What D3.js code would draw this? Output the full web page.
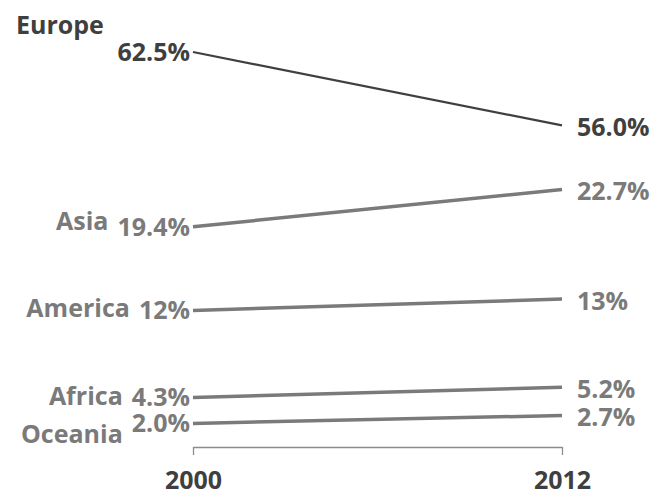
<!DOCTYPE html>
<html>
<head>
<meta charset="utf-8">
<script src="https://cdn.jsdelivr.net/npm/d3@7"></script>
<style>
  html, body { margin: 0; padding: 0; background: #fff; }
  svg { display: block; }
  text { font-family: "Open Sans", "DejaVu Sans", sans-serif; font-weight: 700; }
</style>
</head>
<body>
<svg id="chart" width="654" height="495"></svg>
<script>
const years = ["2000", "2012"];
const regions = ["Europe", "Asia", "America", "Africa", "Oceania"];
const share2000 = [62.5, 19.4, 12, 4.3, 2.0];
const share2012 = [56.0, 22.7, 13, 5.2, 2.7];
const labels2000 = ["62.5%", "19.4%", "12%", "4.3%", "2.0%"];
const labels2012 = ["56.0%", "22.7%", "13%", "5.2%", "2.7%"];

const svg = d3.select("#chart");
const FS = 25;
const dark = "#3f3f3f", grey = "#7a7a7a";

const x = d3.scalePoint().domain(years).range([193, 562]);
// broken value axis: same unit height on both sides of the gap (22.7 .. 56)
const k = 11.3, base = 446;
const y = d3.scaleLinear()
  .domain([0, 24, 54, 66])
  .range([base, base - 24 * k, 52 + 8.5 * k, 52 - 3.5 * k]);

const rows = regions.map((r, i) => ({
  name: r, a: share2000[i], b: share2012[i], la: labels2000[i], lb: labels2012[i],
  color: i === 0 ? dark : grey, width: i === 0 ? 2.2 : 3.5
}));

// axis
const axis = d3.axisBottom(x).tickSizeInner(8).tickSizeOuter(0).tickPadding(16);
const ag = svg.append("g").attr("transform", `translate(0,${base + 1})`).call(axis);
ag.select(".domain").attr("stroke", "#8c8c8c").attr("stroke-width", 1.3);
ag.selectAll(".tick line").attr("stroke", "#8c8c8c").attr("stroke-width", 1.3);
ag.selectAll(".tick text").attr("fill", dark).style("font-size", FS + "px")
  .style("font-family", '"Open Sans", sans-serif').style("font-weight", 700);

// lines
svg.selectAll("line.slope").data(rows).join("line")
  .attr("class", "slope")
  .attr("x1", x(years[0])).attr("x2", x(years[1]))
  .attr("y1", d => y(d.a)).attr("y2", d => y(d.b))
  .attr("stroke", d => d.color).attr("stroke-width", d => d.width);

// left value labels
const leftVals = svg.selectAll("text.lv").data(rows).join("text")
  .attr("class", "lv")
  .attr("x", x(years[0]) - 3).attr("y", d => y(d.a) + 9)
  .attr("text-anchor", "end").attr("fill", d => d.color)
  .style("font-size", FS + "px").text(d => d.la);

// right value labels
svg.selectAll("text.rv").data(rows).join("text")
  .attr("class", "rv")
  .attr("x", x(years[1]) + 15).attr("y", d => y(d.b) + 11)
  .attr("fill", d => d.color)
  .style("font-size", FS + "px").text(d => d.lb);

// region names
const nudge = { Asia: -6, America: -2, Africa: -1, Oceania: 11 };
leftVals.each(function (d) {
  const w = this.getComputedTextLength();
  const vy = y(d.a) + 9;
  const t = svg.append("text").attr("fill", d.color).style("font-size", FS + "px").text(d.name);
  if (d.name === "Europe") {
    t.attr("x", 16).attr("y", vy - 27);
  } else {
    t.attr("x", x(years[0]) - 3 - w - 9).attr("y", vy + (nudge[d.name] || 0))
      .attr("text-anchor", "end");
  }
});
</script>
</body>
</html>
